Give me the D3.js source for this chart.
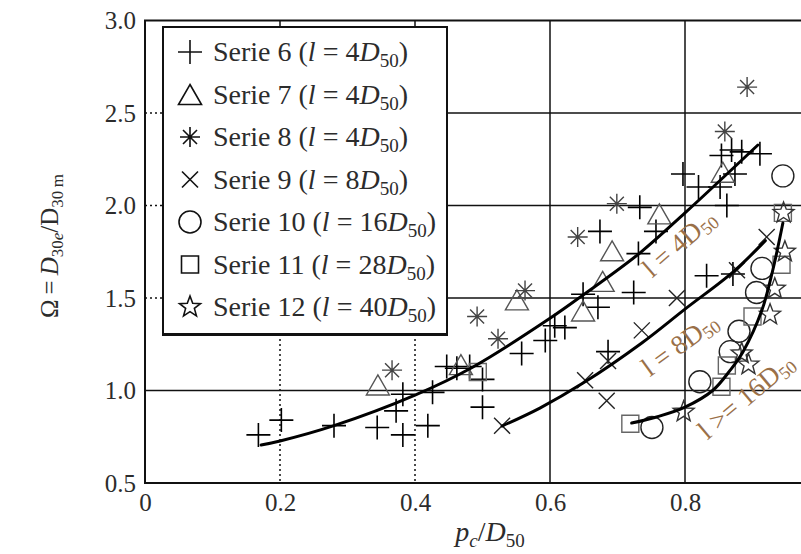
<!DOCTYPE html>
<html>
<head>
<meta charset="utf-8">
<script src="https://cdn.jsdelivr.net/npm/d3@7"></script>
<style>
  html, body { margin: 0; padding: 0; background: #fff; }
  svg { display: block; }
</style>
</head>
<body>
<svg id="chart" width="801" height="554"></svg>
<script>
// ---------------- data ----------------
const xTicks = [0, 0.2, 0.4, 0.6, 0.8];
const yTicks = [0.5, 1.0, 1.5, 2.0, 2.5, 3.0];

const serieNames = ["Serie 6", "Serie 7", "Serie 8", "Serie 9", "Serie 10", "Serie 11", "Serie 12"];
const serieLengths = ["4", "4", "4", "8", "16", "28", "40"];
const serieSymbols = ["plus", "triangle", "asterisk", "cross", "circle", "square", "star"];

const serie6 = [
  [0.168,0.76],[0.202,0.84],[0.28,0.81],[0.344,0.80],[0.372,0.89],[0.382,0.98],[0.382,0.76],
  [0.419,0.81],[0.426,0.99],[0.447,1.13],[0.462,1.12],[0.481,1.13],[0.50,1.06],[0.50,0.91],
  [0.558,1.20],[0.593,1.27],[0.607,1.35],[0.622,1.34],[0.649,1.52],[0.671,1.45],[0.674,1.86],
  [0.686,1.21],[0.724,1.53],[0.731,1.74],[0.733,1.99],[0.757,1.86],[0.797,2.17],[0.82,2.10],
  [0.852,2.10],[0.874,2.17],[0.862,2.00],[0.854,2.27],[0.869,2.30],[0.884,2.29],[0.911,2.28],
  [0.832,1.62],[0.871,1.63]
];
const serie7 = [
  [0.345,1.03],[0.468,1.14],[0.551,1.49],[0.649,1.43],[0.678,1.59],[0.692,1.755],[0.762,1.955],[0.856,2.18]
];
const serie8 = [
  [0.366,1.11],[0.492,1.40],[0.523,1.28],[0.563,1.54],[0.641,1.83],[0.699,2.01],[0.859,2.40],[0.892,2.64]
];
const serie9 = [
  [0.529,0.81],[0.652,1.055],[0.684,0.945],[0.686,1.16],[0.736,1.325],[0.788,1.50],[0.877,1.65],[0.921,1.83]
];
const serie10 = [
  [0.751,0.80],[0.822,1.047],[0.867,1.21],[0.88,1.32],[0.906,1.53],[0.914,1.66],[0.945,2.16]
];
const serie11 = [
  [0.493,1.10],[0.719,0.82],[0.854,1.02],[0.862,1.135],[0.90,1.40],[0.943,1.68],[0.945,1.96]
];
const serie12 = [
  [0.798,0.885],[0.884,1.20],[0.894,1.14],[0.926,1.41],[0.933,1.55],[0.948,1.75],[0.946,1.96]
];

const curve4 = [
  [0.172,0.705],[0.2,0.727],[0.28,0.81],[0.4,0.975],[0.486,1.127],[0.6,1.39],
  [0.649,1.516],[0.733,1.743],[0.8,1.96],[0.908,2.327]
];
const curve8 = [
  [0.529,0.808],[0.585,0.905],[0.649,1.04],[0.736,1.257],[0.8,1.44],[0.871,1.64],[0.919,1.81]
];
const curve16 = [
  [0.721,0.824],[0.758,0.857],[0.8,0.91],[0.841,1.0],[0.867,1.11],[0.886,1.21],
  [0.914,1.435],[0.93,1.65],[0.945,1.905]
];

// ---------------- layout ----------------
const svg = d3.select("#chart");
const W = 801, H = 554;
const x = d3.scaleLinear().domain([0, 1]).range([145, 820]);
const y = d3.scaleLinear().domain([0.5, 3.0]).range([483, 20.5]);
const legendBox = {x0: 163, y0: 27, x1: 447, y1: 334};
const serif = "'Liberation Serif', 'DejaVu Serif', serif";
const txtCol = "#2c2c2c";

svg.append("rect").attr("width", W).attr("height", H).attr("fill", "#fff");

// ---------------- grid ----------------
const grid = svg.append("g").attr("stroke", "#111").attr("fill", "none");
yTicks.filter(v => v > 0.5 && v < 3.0).forEach(v => {
  if (v === 1.0) {
    grid.append("line").attr("x1", x(0)).attr("x2", W).attr("y1", y(v)).attr("y2", y(v)).attr("stroke-width", 1.5);
  } else {
    grid.append("line").attr("x1", x(0)).attr("x2", legendBox.x0).attr("y1", y(v)).attr("y2", y(v))
      .attr("stroke-width", 1.5).attr("stroke-dasharray", "2,3");
    grid.append("line").attr("x1", legendBox.x1).attr("x2", W).attr("y1", y(v)).attr("y2", y(v)).attr("stroke-width", 1.5);
  }
});
xTicks.filter(v => v > 0).forEach(v => {
  if (v >= 0.6) {
    grid.append("line").attr("x1", x(v)).attr("x2", x(v)).attr("y1", y(3.0)).attr("y2", y(0.5)).attr("stroke-width", 1.5);
  } else {
    grid.append("line").attr("x1", x(v)).attr("x2", x(v)).attr("y1", y(3.0)).attr("y2", legendBox.y0).attr("stroke-width", 1.5);
    grid.append("line").attr("x1", x(v)).attr("x2", x(v)).attr("y1", legendBox.y1).attr("y2", y(0.5))
      .attr("stroke-width", 1.5).attr("stroke-dasharray", "2,3");
  }
});
// border
grid.append("path").attr("d", `M${W},${y(3.0)}H${x(0)}V${y(0.5)}H${W}`).attr("stroke-width", 2);

// ---------------- axes ----------------
const yAxis = svg.append("g").attr("transform", `translate(${x(0)},0)`)
  .call(d3.axisLeft(y).tickValues(yTicks).tickFormat(d3.format(".1f")).tickSize(0).tickPadding(9));
const xAxis = svg.append("g").attr("transform", `translate(0,${y(0.5)})`)
  .call(d3.axisBottom(x).tickValues(xTicks).tickFormat(d => d === 0 ? "0" : d3.format(".1f")(d)).tickSize(0).tickPadding(10));
[yAxis, xAxis].forEach(a => {
  a.select(".domain").remove();
  a.selectAll("text").attr("font-family", serif).attr("font-size", 25).attr("fill", txtCol);
});

// axis titles
const xt = svg.append("text").attr("x", 490).attr("y", 541).attr("text-anchor", "middle")
  .attr("font-family", serif).attr("font-size", 28).attr("fill", txtCol);
xt.append("tspan").attr("font-style", "italic").text("p");
xt.append("tspan").attr("font-style", "italic").attr("font-size", 19).attr("dy", 6).text("c");
xt.append("tspan").attr("dy", -6).text("/");
xt.append("tspan").attr("font-style", "italic").text("D");
xt.append("tspan").attr("font-size", 19).attr("dy", 6).text("50");

const yt = svg.append("text").attr("transform", "translate(58,246) rotate(-90)").attr("text-anchor", "middle")
  .attr("font-family", serif).attr("font-size", 25).attr("fill", txtCol);
yt.append("tspan").text("Ω\u2009=\u2009");
yt.append("tspan").attr("font-style", "italic").text("D");
yt.append("tspan").attr("font-size", 17).attr("dy", 5).text("30");
yt.append("tspan").attr("font-size", 17).attr("font-style", "italic").text("e");
yt.append("tspan").attr("dy", -5).text("/D");
yt.append("tspan").attr("font-size", 17).attr("dy", 5).text("30\u2009m");

// ---------------- symbols ----------------
function starPath(R, r) {
  let p = "";
  for (let i = 0; i < 10; i++) {
    const rad = i % 2 === 0 ? R : r;
    const a = -Math.PI / 2 + i * Math.PI / 5;
    p += (i === 0 ? "M" : "L") + (rad * Math.cos(a)).toFixed(2) + "," + (rad * Math.sin(a)).toFixed(2);
  }
  return p + "Z";
}
const symbolPaths = {
  plus: "M-12,0H12M0,-12V12",
  triangle: "M0,-10L11.5,10L-11.5,10Z",
  asterisk: "M-10,0H10M0,-10V10M-7,-7L7,7M-7,7L7,-7",
  cross: "M-8,-8L8,8M-8,8L8,-8",
  circle: "M11,0A11,11 0 1,1 -11,0A11,11 0 1,1 11,0Z",
  square: "M-8.5,-8.5H8.5V8.5H-8.5Z",
  star: starPath(11, 4.6)
};
const symbolStyle = {
  plus: {stroke: "#000", w: 1.6},
  triangle: {stroke: "#555", w: 1.4},
  asterisk: {stroke: "#444", w: 1.4},
  cross: {stroke: "#222", w: 1.4},
  circle: {stroke: "#222", w: 1.4},
  square: {stroke: "#666", w: 1.4},
  star: {stroke: "#333", w: 1.4}
};

// ---------------- markers ----------------
const allSeries = [serie6, serie7, serie8, serie9, serie10, serie11, serie12];
const marks = svg.append("g").attr("fill", "none");
allSeries.forEach((data, i) => {
  const sym = serieSymbols[i];
  marks.append("g").selectAll("path").data(data).join("path")
    .attr("transform", d => `translate(${x(d[0])},${y(d[1])})`)
    .attr("d", symbolPaths[sym])
    .attr("stroke", symbolStyle[sym].stroke)
    .attr("stroke-width", symbolStyle[sym].w)
    .attr("fill", "none");
});

// ---------------- curves ----------------
const line = d3.line().x(d => x(d[0])).y(d => y(d[1])).curve(d3.curveCatmullRom.alpha(0.5));
[curve4, curve8, curve16].forEach(c => {
  svg.append("path").attr("d", line(c)).attr("fill", "none").attr("stroke", "#000")
    .attr("stroke-width", 3).attr("stroke-linecap", "round");
});

// curve labels
const labCol = "#9a7048";
function curveLabel(px, py, angle, main, anchor) {
  const t = svg.append("text")
    .attr("transform", `translate(${x(px)},${y(py)}) rotate(${angle})`)
    .attr("text-anchor", anchor).attr("font-family", serif).attr("font-size", 27).attr("fill", labCol);
  t.append("tspan").text(main);
  t.append("tspan").attr("font-size", 18).attr("dy", 4).text("50");
}
curveLabel(0.80, 1.76, -41, "l = 4D", "middle");
curveLabel(0.80, 1.21, -36, "l = 8D", "middle");
curveLabel(0.833, 0.73, -40, "l >= 16D", "start");

// ---------------- legend ----------------
const lg = svg.append("g");
lg.append("rect").attr("x", legendBox.x0).attr("y", legendBox.y0)
  .attr("width", legendBox.x1 - legendBox.x0).attr("height", legendBox.y1 - legendBox.y0)
  .attr("fill", "#fff").attr("stroke", "#111").attr("stroke-width", 2);
lg.append("line").attr("x1", legendBox.x0 - 1).attr("x2", legendBox.x1 + 1)
  .attr("y1", legendBox.y1 + 0.5).attr("y2", legendBox.y1 + 0.5).attr("stroke", "#111").attr("stroke-width", 3);
const rowY = d3.scaleLinear().domain([0, 6]).range([52, 307]);
serieNames.forEach((name, i) => {
  const cy = rowY(i);
  const sym = serieSymbols[i];
  lg.append("path").attr("transform", `translate(190,${cy})`).attr("d", symbolPaths[sym])
    .attr("fill", "none").attr("stroke", "#111").attr("stroke-width", 1.6);
  const t = lg.append("text").attr("x", 213).attr("y", cy + 9)
    .attr("font-family", serif).attr("font-size", 28).attr("fill", txtCol);
  t.append("tspan").text(name + " (");
  t.append("tspan").attr("font-style", "italic").text("l");
  t.append("tspan").text(" = " + serieLengths[i]);
  t.append("tspan").attr("font-style", "italic").text("D");
  t.append("tspan").attr("font-size", 19).attr("dy", 6).text("50");
  t.append("tspan").attr("dy", -6).text(")");
});
</script>
</body>
</html>
